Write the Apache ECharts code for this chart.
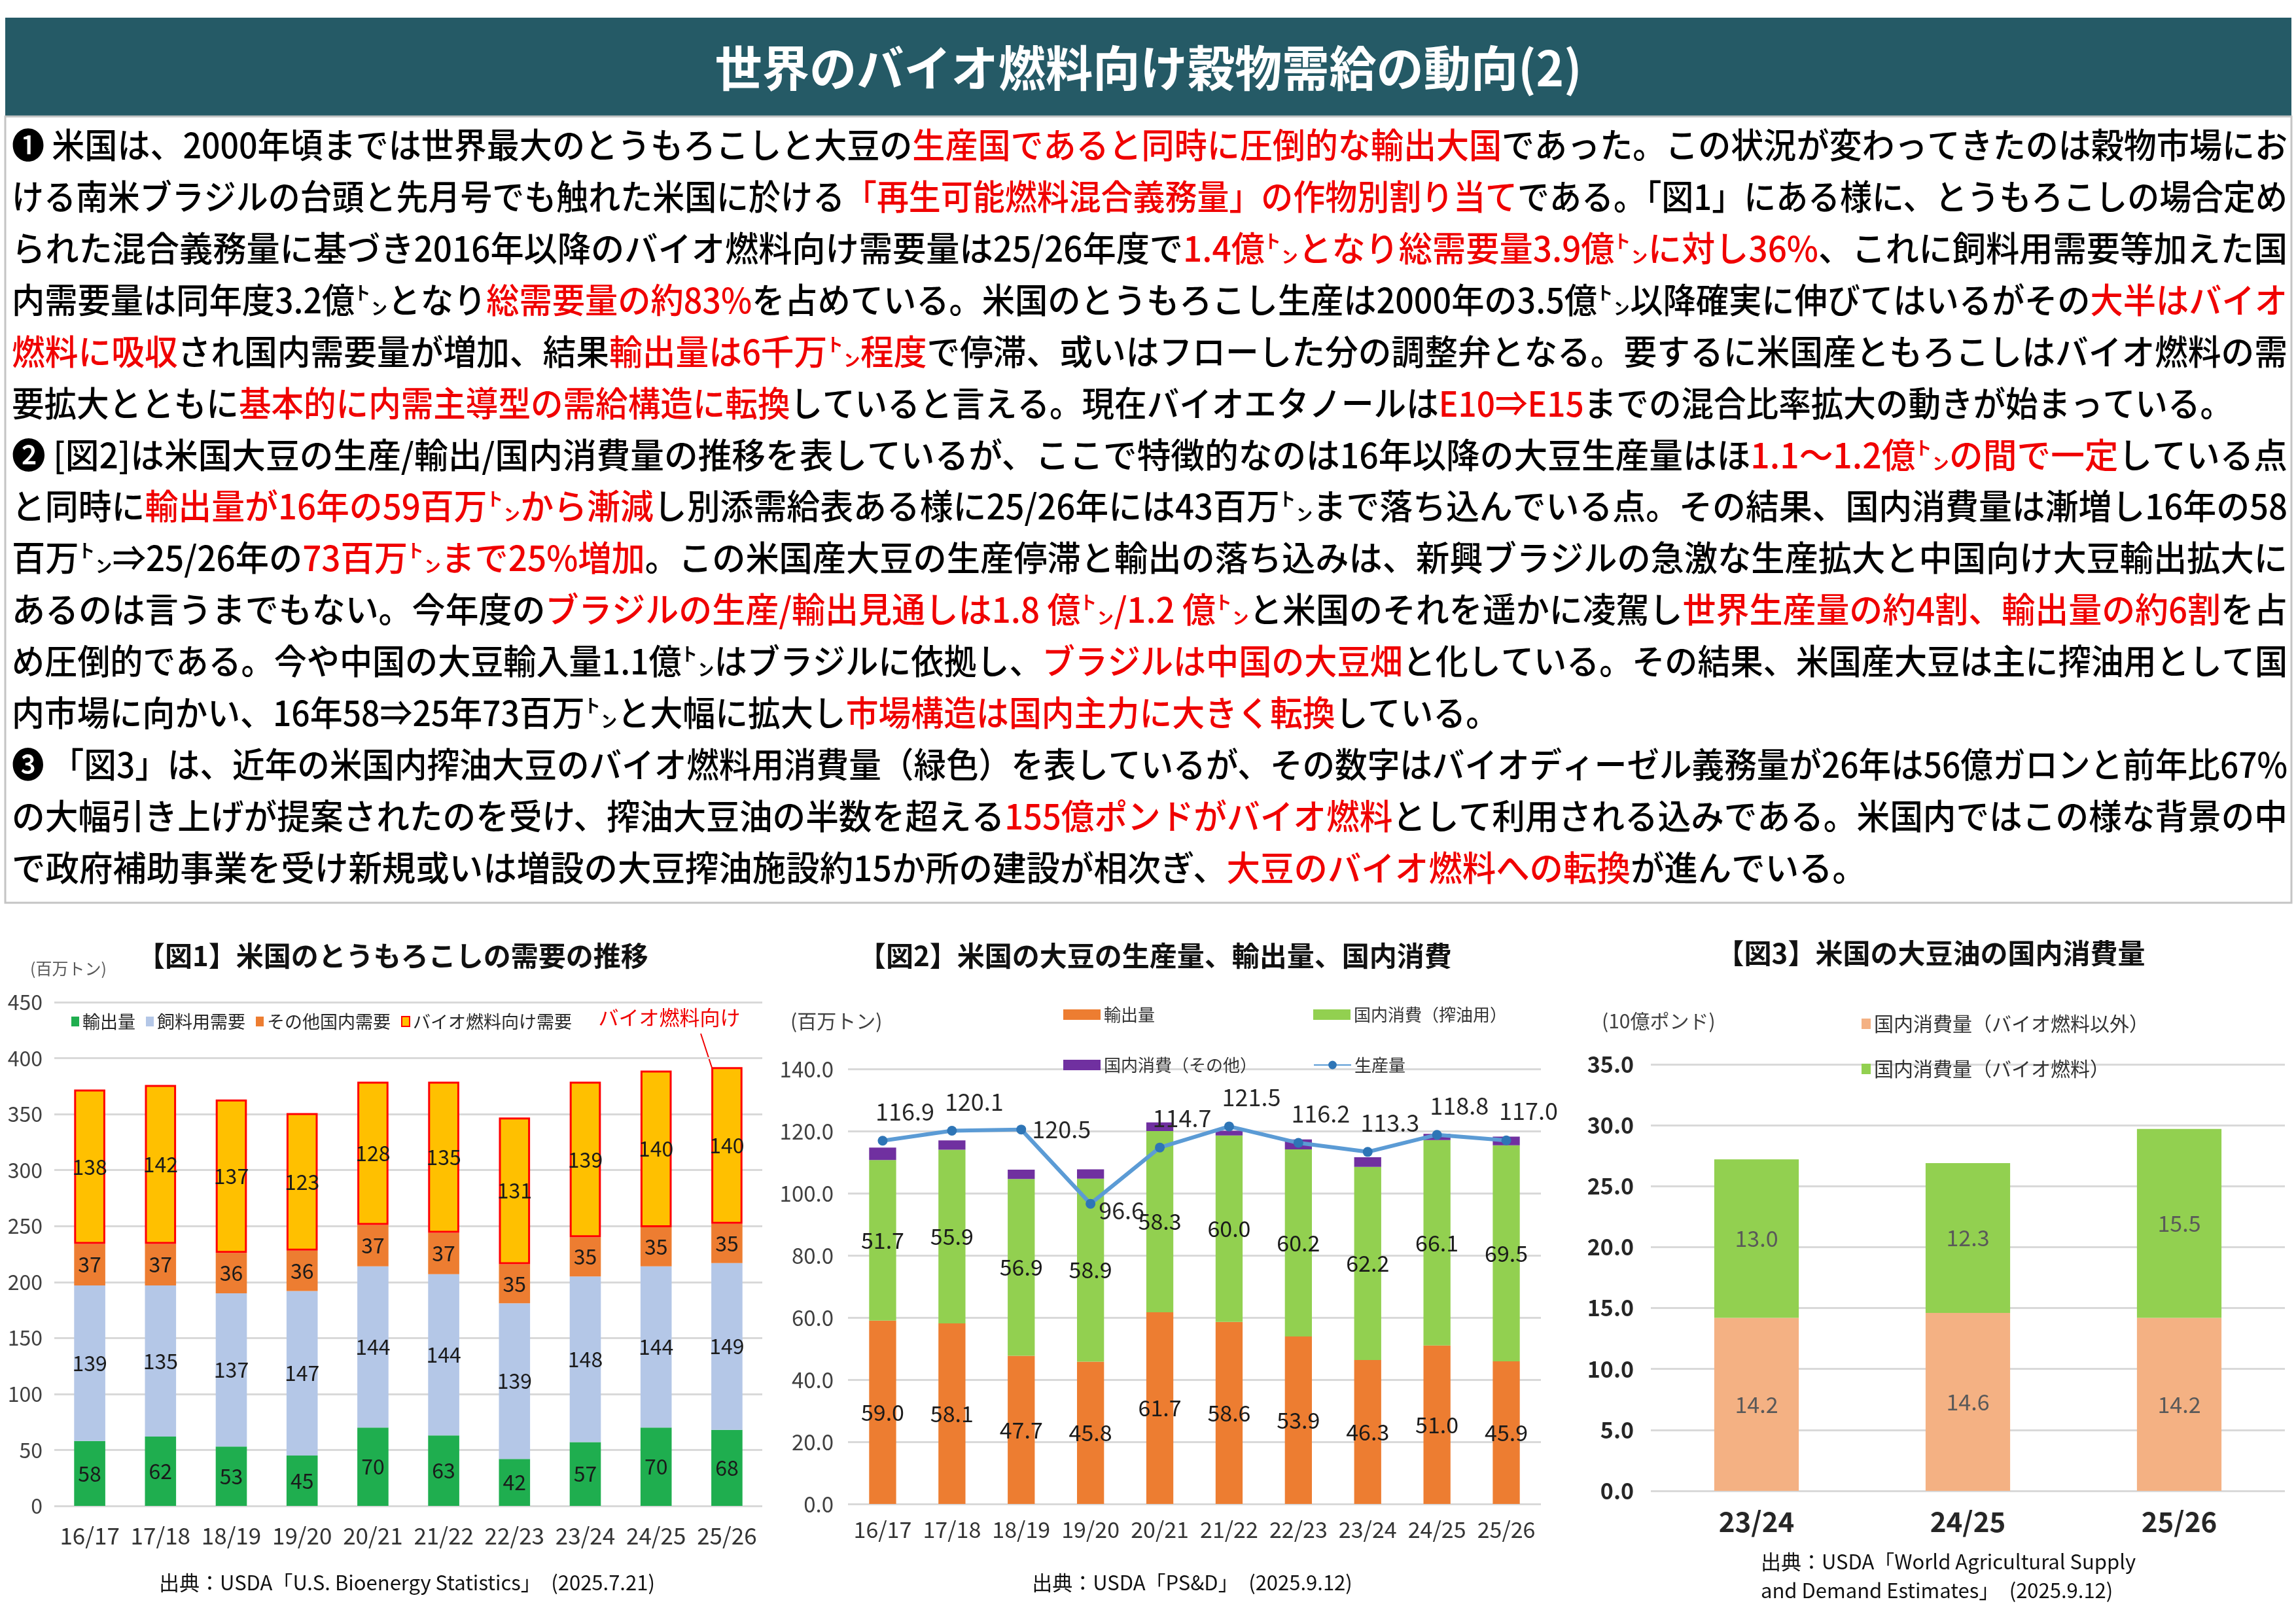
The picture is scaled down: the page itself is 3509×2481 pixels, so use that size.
<!DOCTYPE html>
<html>
<head>
<meta charset="utf-8">
<script src="https://cdn.jsdelivr.net/npm/echarts@6/dist/echarts.min.js"></script>
<style>
  html, body { margin: 0; padding: 0; background: #fff; }
  #page { position: absolute; left: 0; top: 0; width: 3509px; height: 2481px; }
  .chart { position: absolute; top: 1390px; height: 1091px; }
  #c1 { left: 0; width: 1180px; }
  #c2 { left: 1180px; width: 1230px; }
  #c3 { left: 2360px; width: 1149px; }
</style>
</head>
<body>
<div id="page"></div>
<div id="c1" class="chart"></div>
<div id="c2" class="chart"></div>
<div id="c3" class="chart"></div>
<script>
// ---- data ----
const years = ['16/17', '17/18', '18/19', '19/20', '20/21', '21/22', '22/23', '23/24', '24/25', '25/26'];

// fig 1: US corn demand (million t)
const cornExport = [58, 62, 53, 45, 70, 63, 42, 57, 70, 68];
const cornFeed = [139, 135, 137, 147, 144, 144, 139, 148, 144, 149];
const cornOther = [37, 37, 36, 36, 37, 37, 35, 35, 35, 35];
const cornBio = [138, 142, 137, 123, 128, 135, 131, 139, 140, 140];

// fig 2: US soybean (million t)
const soyExport = [59.0, 58.1, 47.7, 45.8, 61.7, 58.6, 53.9, 46.3, 51.0, 45.9];
const soyCrush = [51.7, 55.9, 56.9, 58.9, 58.3, 60.0, 60.2, 62.2, 66.1, 69.5];
const soyOther = [4.0, 3.0, 3.0, 3.0, 2.8, 1.5, 3.2, 3.1, 2.0, 2.8];
const soyProd = [116.9, 120.1, 120.5, 96.6, 114.7, 121.5, 116.2, 113.3, 118.8, 117.0];

// fig 3: US soybean oil domestic use (billion lb)
const oilYears = ['23/24', '24/25', '25/26'];
const oilNonBio = [14.2, 14.6, 14.2];
const oilBio = [13.0, 12.3, 15.5];

// body text, '*' = red part
const bodyLines = [
  ['❶ 米国は、2000年頃までは世界最大のとうもろこしと大豆の', '*生産国であると同時に圧倒的な輸出大国', 'であった。この状況が変わってきたのは穀物市場にお'],
  ['ける南米ブラジルの台頭と先月号でも触れた米国に於ける', '*「再生可能燃料混合義務量」の作物別割り当て', 'である。「図1」にある様に、とうもろこしの場合定め'],
  ['られた混合義務量に基づき2016年以降のバイオ燃料向け需要量は25/26年度で', '*1.4億㌧となり総需要量3.9億㌧に対し36%', '、これに飼料用需要等加えた国'],
  ['内需要量は同年度3.2億㌧となり', '*総需要量の約83%', 'を占めている。米国のとうもろこし生産は2000年の3.5億㌧以降確実に伸びてはいるがその', '*大半はバイオ'],
  ['*燃料に吸収', 'され国内需要量が増加、結果', '*輸出量は6千万㌧程度', 'で停滞、或いはフローした分の調整弁となる。要するに米国産ともろこしはバイオ燃料の需'],
  ['要拡大とともに', '*基本的に内需主導型の需給構造に転換', 'していると言える。現在バイオエタノールは', '*E10⇒E15', 'までの混合比率拡大の動きが始まっている。'],
  ['❷ [図2]は米国大豆の生産/輸出/国内消費量の推移を表しているが、ここで特徴的なのは16年以降の大豆生産量はほ', '*1.1～1.2億㌧の間で一定', 'している点'],
  ['と同時に', '*輸出量が16年の59百万㌧から漸減', 'し別添需給表ある様に25/26年には43百万㌧まで落ち込んでいる点。その結果、国内消費量は漸増し16年の58'],
  ['百万㌧⇒25/26年の', '*73百万㌧まで25%増加', '。この米国産大豆の生産停滞と輸出の落ち込みは、新興ブラジルの急激な生産拡大と中国向け大豆輸出拡大に'],
  ['あるのは言うまでもない。今年度の', '*ブラジルの生産/輸出見通しは1.8 億㌧/1.2 億㌧', 'と米国のそれを遥かに凌駕し', '*世界生産量の約4割、輸出量の約6割', 'を占'],
  ['め圧倒的である。今や中国の大豆輸入量1.1億㌧はブラジルに依拠し、', '*ブラジルは中国の大豆畑', 'と化している。その結果、米国産大豆は主に搾油用として国'],
  ['内市場に向かい、16年58⇒25年73百万㌧と大幅に拡大し', '*市場構造は国内主力に大きく転換', 'している。'],
  ['❸ 「図3」は、近年の米国内搾油大豆のバイオ燃料用消費量（緑色）を表しているが、その数字はバイオディーゼル義務量が26年は56億ガロンと前年比67%'],
  ['の大幅引き上げが提案されたのを受け、搾油大豆油の半数を超える', '*155億ポンドがバイオ燃料', 'として利用される込みである。米国内ではこの様な背景の中'],
  ['で政府補助事業を受け新規或いは増設の大豆搾油施設約15か所の建設が相次ぎ、', '*大豆のバイオ燃料への転換', 'が進んでいる。']
];

const CJK = '"Noto Sans CJK JP", sans-serif';
const NARROW = '"Liberation Sans Narrow", "Noto Sans CJK JP", sans-serif';
const RED = '#f00000';

// ---- page: header and text ----
const mctx = document.createElement('canvas').getContext('2d');
function textWidth(t, font) {
  mctx.font = font;
  return mctx.measureText(t).width;
}

function txt(x, y, text, font, fill, align, extra) {
  return Object.assign({
    type: 'text', x: x, y: y, silent: true,
    style: {
      text: text, font: font, fill: fill,
      align: align || 'left', textAlign: align || 'left',
      verticalAlign: 'middle', textVerticalAlign: 'middle'
    }
  }, extra || {});
}

const pageEls = [];
pageEls.push({ type: 'rect', silent: true, shape: { x: 8, y: 27, width: 3494, height: 151 }, style: { fill: '#255a66' } });
pageEls.push({ type: 'rect', silent: true, shape: { x: 8, y: 178, width: 3494, height: 1202 }, style: { fill: 'none', stroke: '#c4c4c4', lineWidth: 3 } });

const titleText = '世界のバイオ燃料向け穀物需給の動向(2)';
const titleFont = 'bold 74px "Noto Sans CJK JP"';
pageEls.push(txt(1755, 104, titleText, titleFont, '#ffffff', 'center',
  { scaleX: 1325 / textWidth(titleText, titleFont) }));

const bodyFont = '500 53px "Noto Sans CJK JP"';
const textLeft = 18;
bodyLines.forEach(function (line, i) {
  let target = 3478;
  if (i === 5) target = 3394;
  if (i === 11) target = 2272;
  if (i === 14) target = 2834;
  const segs = line.map(function (s) {
    const red = s.charAt(0) === '*';
    const t = red ? s.slice(1) : s;
    return { t: t, red: red, w: textWidth(t, bodyFont) };
  });
  const total = segs.reduce(function (a, s) { return a + s.w; }, 0);
  const sc = target / total;
  let x = textLeft;
  const y = 222 + 78.9 * i;
  segs.forEach(function (s) {
    pageEls.push(txt(x, y, s.t, bodyFont, s.red ? RED : '#000000', 'left', { scaleX: sc }));
    x += s.w * sc;
  });
});

const page = echarts.init(document.getElementById('page'));
page.setOption({ animation: false, backgroundColor: '#ffffff', graphic: { elements: pageEls } });

// ---- fig 1 ----
function valueLabel(size, color) {
  return { show: true, position: 'inside', fontFamily: NARROW, fontSize: size, color: color };
}

const chart1 = echarts.init(document.getElementById('c1'));
chart1.setOption({
  animation: false,
  textStyle: { fontFamily: CJK },
  grid: { left: 83, right: 15, top: 142, bottom: 179 },
  legend: {
    left: 104, top: 153, icon: 'rect', itemWidth: 12, itemHeight: 15, itemGap: 16,
    textStyle: { fontSize: 27, color: '#262626', fontFamily: CJK },
    data: ['輸出量', '飼料用需要', 'その他国内需要', 'バイオ燃料向け需要']
  },
  xAxis: {
    type: 'category', data: years,
    axisLine: { show: false }, axisTick: { show: false },
    axisLabel: { interval: 0, fontFamily: NARROW, fontSize: 35, color: '#333', margin: 28 }
  },
  yAxis: {
    type: 'value', min: 0, max: 450, interval: 50,
    splitLine: { lineStyle: { color: '#d9d9d9', width: 3 } },
    axisLabel: { fontFamily: NARROW, fontSize: 32, color: '#404040', margin: 18 }
  },
  series: [
    { name: '輸出量', type: 'bar', stack: 'c', barWidth: '44%', data: cornExport,
      itemStyle: { color: '#1fae4f' }, label: valueLabel(32, '#1a1a1a') },
    { name: '飼料用需要', type: 'bar', stack: 'c', data: cornFeed,
      itemStyle: { color: '#b4c7e7' }, label: valueLabel(32, '#1a1a1a') },
    { name: 'その他国内需要', type: 'bar', stack: 'c', data: cornOther,
      itemStyle: { color: '#ed7d31' }, label: valueLabel(32, '#1a1a1a') },
    { name: 'バイオ燃料向け需要', type: 'bar', stack: 'c', data: cornBio,
      itemStyle: { color: '#ffc000', borderColor: '#ff0000', borderWidth: 3 },
      label: valueLabel(32, '#1a1a1a') }
  ],
  graphic: { elements: [
    txt(210, 71, '【図1】米国のとうもろこしの需要の推移', 'bold 42px ' + CJK, '#111', 'left'),
    txt(46, 90, '(百万トン)', '25px ' + CJK, '#595959', 'left'),
    txt(1023, 165, 'バイオ燃料向け', '31px ' + CJK, RED, 'center'),
    { type: 'line', silent: true, shape: { x1: 1071, y1: 190, x2: 1099, y2: 276 }, style: { stroke: RED, lineWidth: 2 } },
    { type: 'polygon', silent: true, shape: { points: [[1102, 286], [1092, 268], [1104, 265]] }, style: { fill: RED } },
    txt(622, 1029, '出典：USDA「U.S. Bioenergy Statistics」　(2025.7.21)', '31px ' + CJK, '#111', 'center')
  ] }
});

// ---- fig 2 ----
const prodData = soyProd.map(function (v, i) {
  if (i === 2) return { value: v, label: { position: 'right', offset: [4, 0] } };
  if (i === 3) return { value: v, label: { position: 'right', offset: [0, 10] } };
  return v;
});

function oneLegend(name, left, top, w, h) {
  return {
    left: left, top: top, itemWidth: w, itemHeight: h, icon: name === '生産量' ? undefined : 'rect',
    textStyle: { fontSize: 26, color: '#333', fontFamily: CJK },
    data: [name]
  };
}

const chart2 = echarts.init(document.getElementById('c2'));
chart2.setOption({
  animation: false,
  textStyle: { fontFamily: CJK },
  grid: { left: 116, right: 55, top: 244, bottom: 182 },
  legend: [
    oneLegend('輸出量', 440, 143, 57, 16),
    oneLegend('国内消費（搾油用）', 822, 143, 57, 16),
    oneLegend('国内消費（その他）', 440, 220, 57, 16),
    oneLegend('生産量', 822, 220, 57, 16)
  ],
  xAxis: {
    type: 'category', data: years,
    axisLine: { show: false }, axisTick: { show: false },
    axisLabel: { interval: 0, fontFamily: NARROW, fontSize: 34, color: '#333', margin: 22 }
  },
  yAxis: {
    type: 'value', min: 0, max: 140, interval: 20,
    splitLine: { lineStyle: { color: '#d9d9d9', width: 3 } },
    axisLabel: { fontFamily: NARROW, fontSize: 33, color: '#404040', margin: 22,
      formatter: function (v) { return v.toFixed(1); } }
  },
  series: [
    { name: '輸出量', type: 'bar', stack: 's', barWidth: '39%', data: soyExport,
      itemStyle: { color: '#ed7d31' },
      label: Object.assign(valueLabel(34, '#1a1a1a'), { formatter: function (p) { return p.value.toFixed(1); } }) },
    { name: '国内消費（搾油用）', type: 'bar', stack: 's', data: soyCrush,
      itemStyle: { color: '#92d050' },
      label: Object.assign(valueLabel(34, '#1a1a1a'), { formatter: function (p) { return p.value.toFixed(1); } }) },
    { name: '国内消費（その他）', type: 'bar', stack: 's', data: soyOther,
      itemStyle: { color: '#7030a0' } },
    { name: '生産量', type: 'line', data: prodData, z: 5,
      symbol: 'circle', symbolSize: 15,
      lineStyle: { color: '#5b9bd5', width: 6 },
      itemStyle: { color: '#2e75b6' },
      label: { show: true, position: 'top', offset: [34, -14], fontFamily: NARROW, fontSize: 36, color: '#262626',
        formatter: function (p) { return p.value.toFixed(1); } } }
  ],
  graphic: { elements: [
    txt(132, 71, '【図2】米国の大豆の生産量、輸出量、国内消費', 'bold 42px ' + CJK, '#111', 'left'),
    txt(28, 171, '(百万トン)', '30px ' + CJK, '#404040', 'left'),
    txt(642, 1029, '出典：USDA「PS&D」　(2025.9.12)', '31px ' + CJK, '#111', 'center')
  ] }
});

// ---- fig 3 ----
const chart3 = echarts.init(document.getElementById('c3'));
chart3.setOption({
  animation: false,
  textStyle: { fontFamily: CJK },
  grid: { left: 163, right: 17, top: 237, bottom: 202 },
  legend: [
    { left: 480, top: 155, icon: 'rect', itemWidth: 14, itemHeight: 16,
      textStyle: { fontSize: 30, color: '#333', fontFamily: CJK }, data: ['国内消費量（バイオ燃料以外）'] },
    { left: 480, top: 224, icon: 'rect', itemWidth: 14, itemHeight: 16,
      textStyle: { fontSize: 30, color: '#333', fontFamily: CJK }, data: ['国内消費量（バイオ燃料）'] }
  ],
  xAxis: {
    type: 'category', data: oilYears,
    axisLine: { show: false }, axisTick: { show: false },
    axisLabel: { interval: 0, fontFamily: NARROW, fontSize: 42, fontWeight: 'bold', color: '#262626', margin: 26 }
  },
  yAxis: {
    type: 'value', min: 0, max: 35, interval: 5,
    splitLine: { lineStyle: { color: '#d9d9d9', width: 3 } },
    axisLabel: { fontFamily: NARROW, fontSize: 34, fontWeight: 'bold', color: '#262626', margin: 26,
      formatter: function (v) { return v.toFixed(1); } }
  },
  series: [
    { name: '国内消費量（バイオ燃料以外）', type: 'bar', stack: 'o', barWidth: '40%', data: oilNonBio,
      itemStyle: { color: '#f4b183' },
      label: Object.assign(valueLabel(34, '#595959'), { formatter: function (p) { return p.value.toFixed(1); } }) },
    { name: '国内消費量（バイオ燃料）', type: 'bar', stack: 'o', data: oilBio,
      itemStyle: { color: '#92d050' },
      label: Object.assign(valueLabel(34, '#595959'), { formatter: function (p) { return p.value.toFixed(1); } }) }
  ],
  graphic: { elements: [
    txt(591, 67, '【図3】米国の大豆油の国内消費量', 'bold 42px ' + CJK, '#111', 'center'),
    txt(88, 171, '(10億ポンド)', '30px ' + CJK, '#404040', 'left'),
    txt(331, 997, '出典：USDA「World Agricultural Supply', '31px ' + CJK, '#111', 'left'),
    txt(331, 1041, 'and Demand Estimates」　(2025.9.12)', '31px ' + CJK, '#111', 'left')
  ] }
});
</script>
</body>
</html>
